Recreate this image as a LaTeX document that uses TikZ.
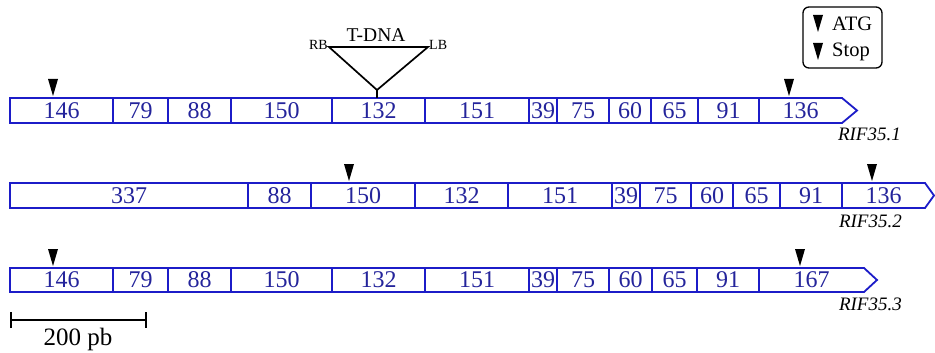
\documentclass[tikz,border=0pt]{standalone}
\usepackage{fontspec}
\setmainfont{Liberation Serif}
\usetikzlibrary{positioning}
\usetikzlibrary{arrows.meta}

\definecolor{exonblue}{RGB}{28,28,200}
\definecolor{numblue}{RGB}{36,36,155}

\tikzset{
  gene/.style={draw=exonblue, line width=1.8pt, line join=miter},
  cut/.style={draw=exonblue, line width=1.4pt},
  exnum/.style={text=numblue, font=\fontsize{24}{24}\selectfont, inner sep=0pt},
  isoname/.style={font=\fontsize{19}{19}\selectfont\itshape, inner sep=0pt, anchor=east},
  tdna/.style={draw=black, line width=1.7pt},
  border/.style={font=\fontsize{14}{14}\selectfont, inner sep=1pt},
  legendtext/.style={font=\fontsize{20.5}{20.5}\selectfont, inner sep=0pt, anchor=west},
}

% filled codon marker: x position, top edge
\newcommand\codon[2]{\fill (#1-5,#2) -- (#1+5,#2) -- (#1,#2+17) -- cycle;}

\begin{document}
\begin{tikzpicture}[x=1pt, y=-1pt]
  \useasboundingbox (0,0) rectangle (935,353);

  % RIF35.1
  \draw[gene] (10,98) -- (842,98) -- (857,110.5) -- (842,123) -- (10,123) -- cycle;
  \foreach \x in {113,168,231,332,425,529,557,609,651,698,759}
    \draw[cut] (\x,98) -- (\x,123);
  \foreach \a/\b/\t in {10/113/146,113/168/79,168/231/88,231/332/150,332/425/132,
      425/529/151,529/557/39,557/609/75,609/651/60,651/698/65,698/759/91,759/842/136}
    \node[exnum] (a-\a) at ({(\a+\b)/2},110.5) {\t};
  \node[isoname] (rif1) at (901,134) {RIF35.1};
  \codon{53}{79}
  \codon{789}{79}

  % RIF35.2
  \draw[gene] (10,183) -- (925,183) -- (934,195.5) -- (925,208) -- (10,208) -- cycle;
  \foreach \x in {248,311,415,508,612,640,691,733,780,842}
    \draw[cut] (\x,183) -- (\x,208);
  \foreach \a/\b/\t in {10/248/337,248/311/88,311/415/150,415/508/132,508/612/151,
      612/640/39,640/691/75,691/733/60,733/780/65,780/842/91,842/925/136}
    \node[exnum] (b-\a) at ({(\a+\b)/2},195.5) {\t};
  \node[isoname] (rif2) at (902,221) {RIF35.2};
  \codon{349}{164}
  \codon{872}{164}

  % RIF35.3
  \draw[gene] (10,268) -- (864,268) -- (877,280) -- (864,292) -- (10,292) -- cycle;
  \foreach \x in {113,168,231,332,425,529,557,609,652,697,759}
    \draw[cut] (\x,268) -- (\x,292);
  \foreach \a/\b/\t in {10/113/146,113/168/79,168/231/88,231/332/150,332/425/132,
      425/529/151,529/557/39,557/609/75,609/652/60,652/697/65,697/759/91,759/864/167}
    \node[exnum] (c-\a) at ({(\a+\b)/2},280) {\t};
  \node[isoname] (rif3) at (902,304) {RIF35.3};
  \codon{53}{249}
  \codon{800}{249}

  % T-DNA insertion in exon 5
  \coordinate (rb) at (329,47);
  \coordinate (lb) at (428,47);
  \coordinate (apex) at (377,90);
  \coordinate (foot) at (377,98);
  \draw[tdna, line join=miter] (rb) -- (lb) -- (apex) -- cycle;
  \draw[tdna] (apex) -- (foot);
  \node[border, left=0pt of rb, yshift=2pt] (rbtext) {RB};
  \node[border, right=0pt of lb, yshift=2pt] (lbtext) {LB};
  \node[font=\fontsize{19.5}{19.5}\selectfont, inner sep=0pt] (tdnatext) at (376,35) {T-DNA};

  % legend
  \node[draw, line width=1.3pt, rounded corners=6pt, minimum width=79pt,
        minimum height=61pt] (legend) at (842.5,37.5) {};
  \fill (813,15) -- (823,15) -- (818,32) -- cycle;
  \fill (813,43) -- (823,43) -- (818,60) -- cycle;
  \node[legendtext] (atg) at (832,23.5) {ATG};
  \node[legendtext] (stop) at (832,51.5) {Stop};

  % scale bar
  \coordinate (s0) at (10,320);
  \coordinate (s1) at (147,320);
  \draw[line width=2pt, {Bar[width=16pt]}-{Bar[width=16pt]}] (s0) -- (s1);
  \node[font=\fontsize{25}{25}\selectfont, inner sep=0pt] (scale) at (78,339) {200 pb};
\end{tikzpicture}
\end{document}
